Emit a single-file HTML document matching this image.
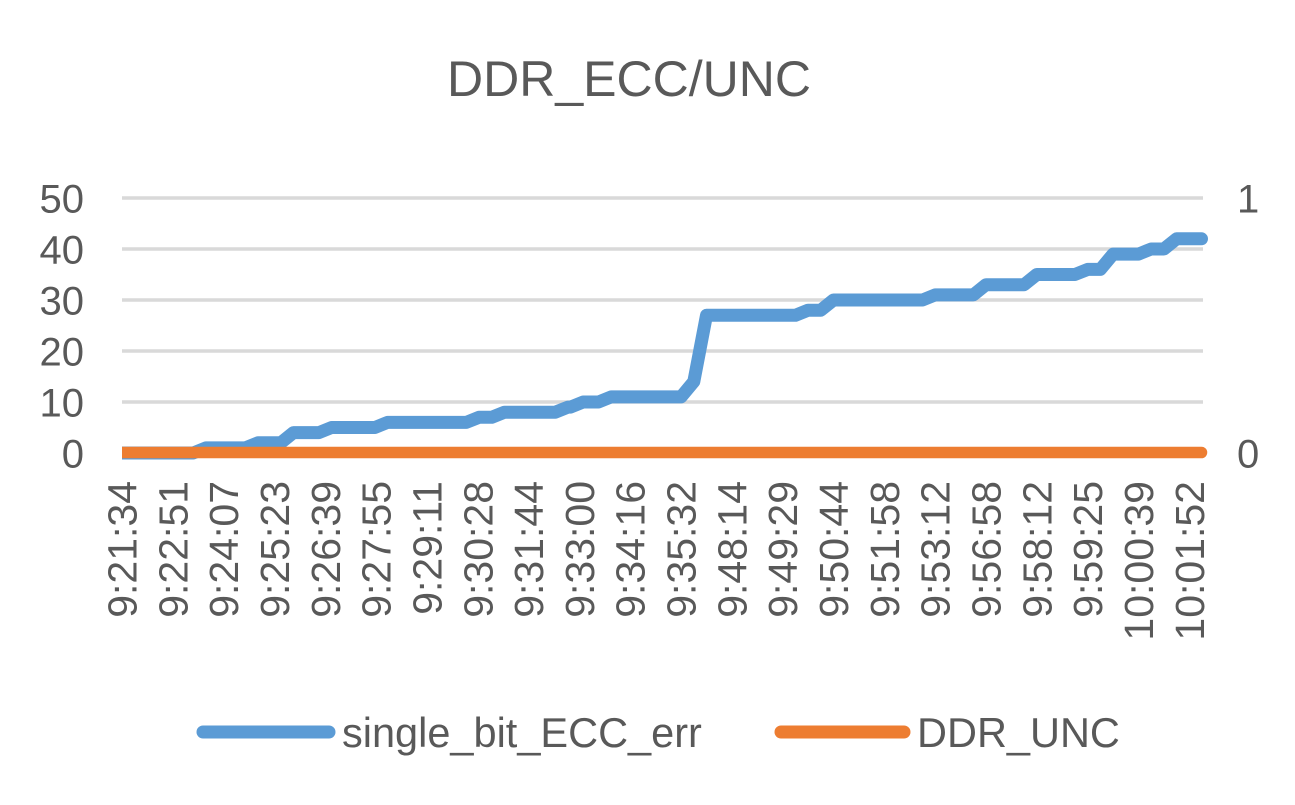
<!DOCTYPE html>
<html>
<head>
<meta charset="utf-8">
<style>
  html, body { margin: 0; padding: 0; background: #ffffff; }
  svg { display: block; }
  text { font-family: "Liberation Sans", "DejaVu Sans", sans-serif; fill: #595959; }
</style>
</head>
<body>
<svg width="1295" height="805" viewBox="0 0 1295 805" xmlns="http://www.w3.org/2000/svg">
  <rect x="0" y="0" width="1295" height="805" fill="#ffffff"/>
  <defs>
    <clipPath id="plotclip">
      <rect x="122" y="0" width="1173" height="805"/>
    </clipPath>
  </defs>

  <!-- Title -->
  <text x="629" y="96" font-size="50" text-anchor="middle">DDR_ECC/UNC</text>

  <!-- Gridlines -->
  <g stroke="#D9D9D9" stroke-width="3.5">
    <line x1="122" y1="198" x2="1203" y2="198"/>
    <line x1="122" y1="249" x2="1203" y2="249"/>
    <line x1="122" y1="300" x2="1203" y2="300"/>
    <line x1="122" y1="351" x2="1203" y2="351"/>
    <line x1="122" y1="402" x2="1203" y2="402"/>
    <line x1="122" y1="453" x2="1203" y2="453"/>
  </g>

  <!-- Left axis labels -->
  <g font-size="40" text-anchor="end">
    <text x="84" y="212.6">50</text>
    <text x="84" y="263.6">40</text>
    <text x="84" y="314.6">30</text>
    <text x="84" y="365.6">20</text>
    <text x="84" y="416.6">10</text>
    <text x="84" y="467.3">0</text>
  </g>

  <!-- Right axis labels -->
  <g font-size="40" text-anchor="start">
    <text x="1237" y="212.6">1</text>
    <text x="1237" y="467.3">0</text>
  </g>

  <!-- Series -->
  <g clip-path="url(#plotclip)" fill="none" stroke-linecap="round" stroke-linejoin="round">
    <polyline stroke="#5B9BD5" stroke-width="13" points="
      116,453 193.2,453 205.9,447.9 245.2,447.9 258.0,442.8 280.8,442.8 293.5,432.6
      318.9,432.6 331.6,427.5 374.9,427.5 387.6,422.4 466.3,422.4 479.0,417.3
      491.7,417.3 504.5,412.2 555.3,412.2 568.0,407.1 570.5,407.1 583.2,402
      598.5,402 611.2,396.9 681.1,396.9 693.8,381.6 706.5,315.3 795.4,315.3
      808.1,310.2 820.8,310.2 833.5,300 922.5,300 935.2,294.9 973.3,294.9
      986.0,284.7 1024.1,284.7 1036.8,274.5 1074.9,274.5 1087.7,269.4 1100.4,269.4
      1113.1,254.1 1138.5,254.1 1151.2,249 1163.9,249 1176.6,238.8 1201.5,238.8"/>
    <line x1="116" y1="452.5" x2="1201.5" y2="452.5" stroke="#ED7D31" stroke-width="11.5"/>
  </g>

  <!-- X axis labels (rotated) -->
  <g font-size="41" text-anchor="end">
    <text transform="translate(136.5,481) rotate(-90)">9:21:34</text>
    <text transform="translate(187.3,481) rotate(-90)">9:22:51</text>
    <text transform="translate(238.1,481) rotate(-90)">9:24:07</text>
    <text transform="translate(289,481) rotate(-90)">9:25:23</text>
    <text transform="translate(339.8,481) rotate(-90)">9:26:39</text>
    <text transform="translate(390.6,481) rotate(-90)">9:27:55</text>
    <text transform="translate(441.4,481) rotate(-90)">9:29:11</text>
    <text transform="translate(492.3,481) rotate(-90)">9:30:28</text>
    <text transform="translate(543.1,481) rotate(-90)">9:31:44</text>
    <text transform="translate(593.9,481) rotate(-90)">9:33:00</text>
    <text transform="translate(644.7,481) rotate(-90)">9:34:16</text>
    <text transform="translate(695.6,481) rotate(-90)">9:35:32</text>
    <text transform="translate(746.4,481) rotate(-90)">9:48:14</text>
    <text transform="translate(797.2,481) rotate(-90)">9:49:29</text>
    <text transform="translate(848,481) rotate(-90)">9:50:44</text>
    <text transform="translate(898.9,481) rotate(-90)">9:51:58</text>
    <text transform="translate(949.7,481) rotate(-90)">9:53:12</text>
    <text transform="translate(1000.5,481) rotate(-90)">9:56:58</text>
    <text transform="translate(1051.3,481) rotate(-90)">9:58:12</text>
    <text transform="translate(1102.2,481) rotate(-90)">9:59:25</text>
    <text transform="translate(1153,481) rotate(-90)">10:00:39</text>
    <text transform="translate(1203.8,481) rotate(-90)">10:01:52</text>
  </g>

  <!-- Legend -->
  <g stroke-linecap="round" stroke-width="13">
    <line x1="203" y1="732" x2="329" y2="732" stroke="#5B9BD5"/>
    <line x1="781" y1="732" x2="904" y2="732" stroke="#ED7D31"/>
  </g>
  <g font-size="41.5">
    <text x="342" y="747">single_bit_ECC_err</text>
    <text x="917" y="747">DDR_UNC</text>
  </g>
</svg>
</body>
</html>
